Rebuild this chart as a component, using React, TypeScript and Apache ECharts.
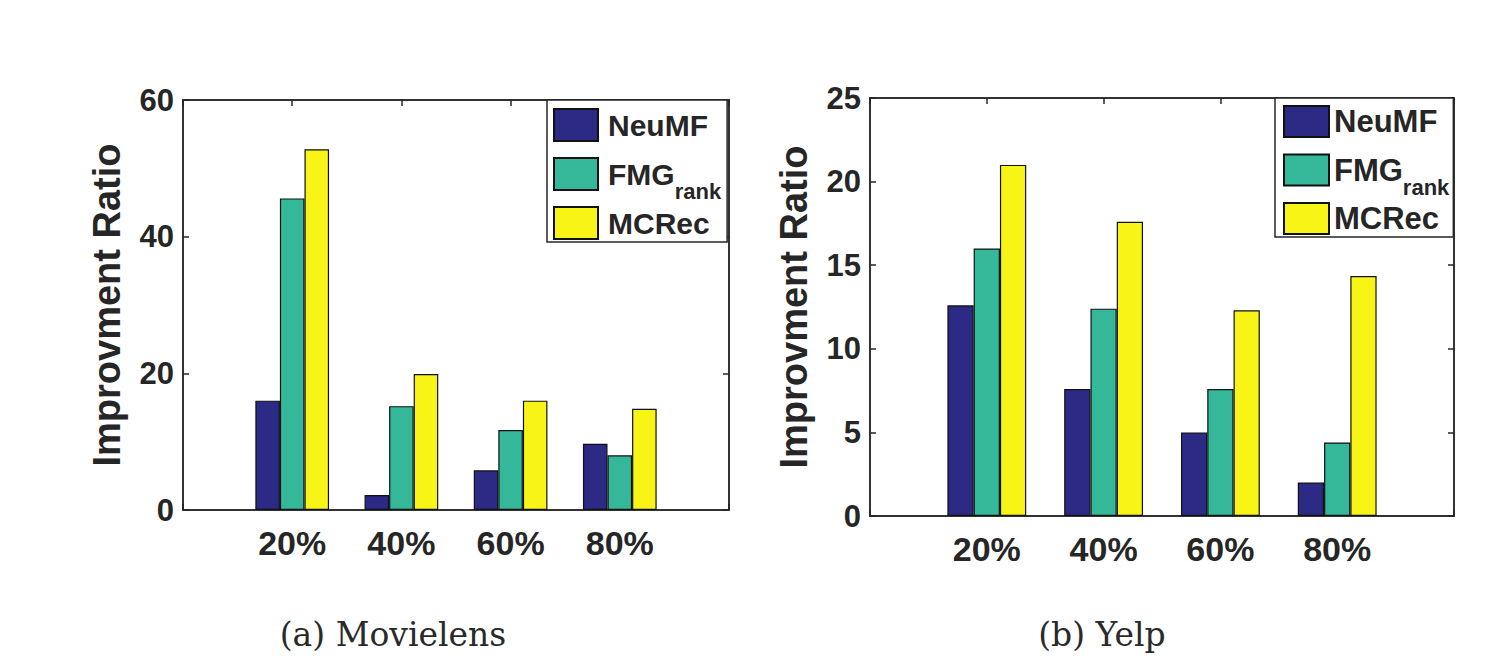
import React, { useEffect, useRef } from 'react';
import * as echarts from 'echarts';

// ---- data ----
const categories = ['20%', '40%', '60%', '80%'];
const seriesNames = ['NeuMF', 'FMGrank', 'MCRec'];
const seriesColors = ['#2d2a86', '#35b89a', '#f8f516'];

const movielensNeuMF = [16.0, 2.2, 5.8, 9.7];
const movielensFMGrank = [45.6, 15.2, 11.7, 8.0];
const movielensMCRec = [52.8, 19.9, 16.0, 14.8];

const yelpNeuMF = [12.6, 7.6, 5.0, 2.0];
const yelpFMGrank = [16.0, 12.4, 7.6, 4.4];
const yelpMCRec = [21.0, 17.6, 12.3, 14.35];

const movielensYTicks = { min: 0, max: 60, interval: 20 };
const yelpYTicks = { min: 0, max: 25, interval: 5 };

const yAxisTitle = 'Improvment Ratio';
const captions = ['(a) Movielens', '(b) Yelp'];

// ---- style ----
const SANS = '"Liberation Sans", Arial, Helvetica, sans-serif';
const SERIF = '"DejaVu Serif", "Liberation Serif", serif';
const INK = '#262626';

function toPoints(values: number[]) {
  return values.map((v, i) => [i + 1, v]);
}

function xAxes(gridIndex: number) {
  const common = {
    type: 'value' as const,
    gridIndex,
    min: 0,
    max: categories.length + 1,
    interval: 1,
    splitLine: { show: false },
    axisLine: { show: true, onZero: false, lineStyle: { color: INK, width: 1.5 } },
    axisTick: { show: true, inside: true, length: 6, lineStyle: { color: INK, width: 1.5 } },
  };
  return [
    {
      ...common,
      position: 'bottom',
      axisLabel: {
        show: true,
        margin: 16,
        fontSize: 34,
        fontWeight: 'bold',
        fontFamily: SANS,
        color: INK,
        formatter: (v: number) => categories[v - 1] ?? '',
      },
    },
    { ...common, position: 'top', axisLabel: { show: false } },
  ];
}

function yAxes(gridIndex: number, ticks: { min: number; max: number; interval: number }) {
  const common = {
    type: 'value' as const,
    gridIndex,
    min: ticks.min,
    max: ticks.max,
    interval: ticks.interval,
    splitLine: { show: false },
    axisLine: { show: true, onZero: false, lineStyle: { color: INK, width: 1.5 } },
    axisTick: { show: true, inside: true, length: 6, lineStyle: { color: INK, width: 1.5 } },
  };
  return [
    {
      ...common,
      position: 'left',
      name: yAxisTitle,
      nameLocation: 'middle',
      nameGap: 57,
      nameTextStyle: { fontSize: 38, fontWeight: 'bold', fontFamily: SANS, color: INK },
      axisLabel: {
        show: true,
        margin: 9,
        fontSize: 31,
        fontWeight: 'bold',
        fontFamily: SANS,
        color: INK,
      },
    },
    { ...common, position: 'right', axisLabel: { show: false } },
  ];
}

function barSeries(name: string, color: string, values: number[], axisIdx: number) {
  return {
    type: 'bar',
    name,
    xAxisIndex: axisIdx,
    yAxisIndex: axisIdx,
    data: toPoints(values),
    barWidth: '22.5%',
    barGap: '0%',
    itemStyle: { color, borderColor: '#111', borderWidth: 1.2 },
  };
}

function legendOf(left: number, top: number, fontSize: number, padding: number[], textPad: number, iw: number, ih: number, gap: number) {
  const base = { fontSize, fontWeight: 'bold', fontFamily: SANS, color: INK };
  return {
    orient: 'vertical',
    left,
    top,
    data: seriesNames,
    itemWidth: iw,
    itemHeight: ih,
    itemGap: gap,
    padding,
    borderColor: INK,
    borderWidth: 1.5,
    backgroundColor: '#fff',
    selectedMode: false,
    icon: 'rect',
    formatter: (name: string) => (name === 'FMGrank' ? '{main|FMG}{sub|rank}' : name),
    textStyle: {
      ...base,
      lineHeight: ih,
      padding: [0, 0, 0, textPad],
      rich: {
        main: { ...base, lineHeight: ih },
        sub: { ...base, fontSize: 22, lineHeight: 20, padding: [34, 0, 0, 0] },
      },
    },
  };
}

export default function App() {
  const ref = useRef<HTMLDivElement>(null);

  useEffect(() => {
    if (!ref.current) return;
    const chart = echarts.init(ref.current, null, { renderer: 'svg' });
    const option = {
      animation: false,
      backgroundColor: '#fff',
      grid: [
        { left: 183, top: 100, width: 546, height: 410, show: true, borderColor: INK, borderWidth: 1.5 },
        { left: 870, top: 98, width: 584, height: 418, show: true, borderColor: INK, borderWidth: 1.5 },
      ],
      xAxis: [...xAxes(0), ...xAxes(1)],
      yAxis: [...yAxes(0, movielensYTicks), ...yAxes(1, yelpYTicks)],
      legend: [
        legendOf(547, 100, 30, [8, 6, 2, 6], 5, 44, 32, 4),
        legendOf(1275, 98, 31, [7, 4, 2, 8], 0, 45, 31, 4),
      ],
      series: [
        barSeries(seriesNames[0], seriesColors[0], movielensNeuMF, 0),
        barSeries(seriesNames[1], seriesColors[1], movielensFMGrank, 0),
        barSeries(seriesNames[2], seriesColors[2], movielensMCRec, 0),
        barSeries(seriesNames[0], seriesColors[0], yelpNeuMF, 2),
        barSeries(seriesNames[1], seriesColors[1], yelpFMGrank, 2),
        barSeries(seriesNames[2], seriesColors[2], yelpMCRec, 2),
      ],
      graphic: [
        {
          type: 'text',
          x: 393,
          y: 634,
          style: {
            text: captions[0],
            font: `33px ${SERIF}`,
            fill: '#2a2a2a',
            textAlign: 'center',
            textVerticalAlign: 'middle',
          },
        },
        {
          type: 'text',
          x: 1102,
          y: 634,
          style: {
            text: captions[1],
            font: `33px ${SERIF}`,
            fill: '#2a2a2a',
            textAlign: 'center',
            textVerticalAlign: 'middle',
          },
        },
      ],
    };
    chart.setOption(option as any);
    return () => chart.dispose();
  }, []);

  return (
    <div
      ref={ref}
      style={{ position: 'fixed', left: 0, top: 0, width: 1493, height: 658, background: '#fff' }}
    />
  );
}
